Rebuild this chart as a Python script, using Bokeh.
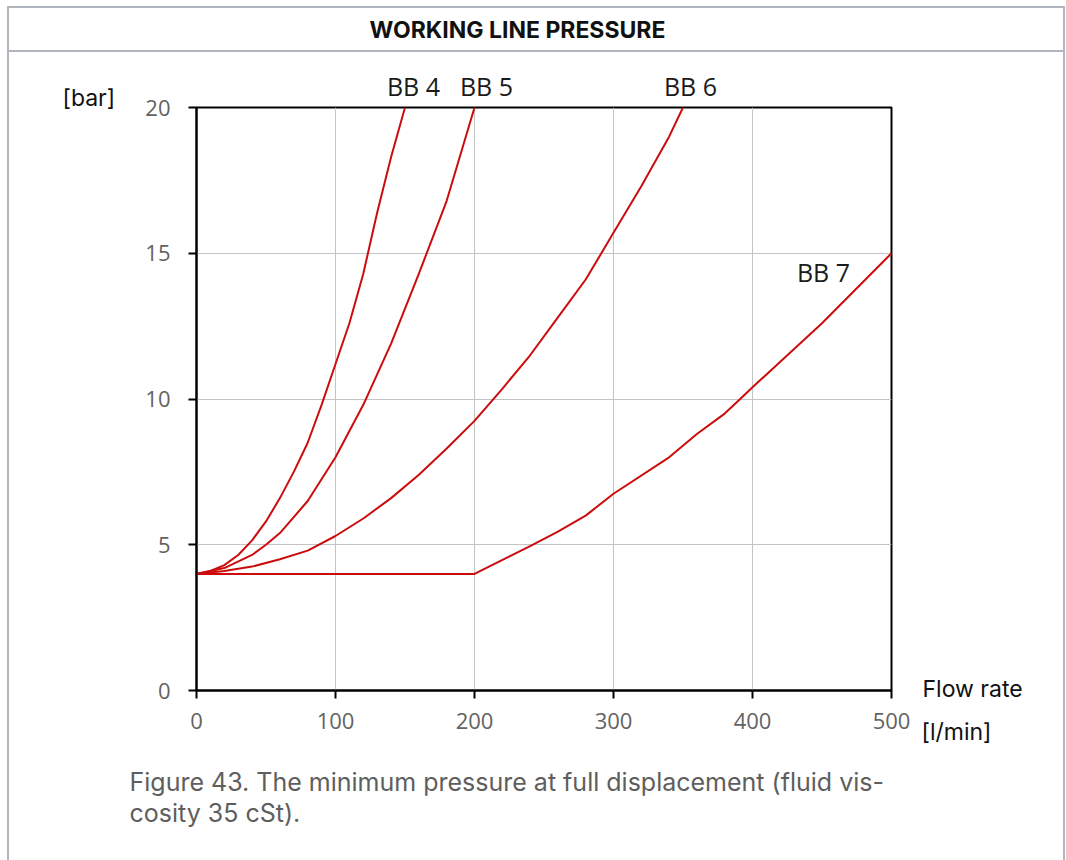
from bokeh.plotting import figure
from bokeh.models import Range1d, FixedTicker, Label, InlineStyleSheet
from bokeh.embed import file_html
from bokeh.resources import INLINE

# Minimum working line pressure [bar] against flow rate [l/min]
bb4_flow = [0, 10, 20, 30, 40, 50, 60, 70, 80, 90, 100, 110, 120, 130, 140, 150]
bb4_bar = [4.0, 4.1, 4.3, 4.65, 5.15, 5.8, 6.6, 7.5, 8.5, 9.8, 11.2, 12.6, 14.3, 16.4, 18.3, 20.0]

bb5_flow = [0, 20, 40, 50, 60, 80, 100, 110, 120, 140, 160, 180, 200]
bb5_bar = [4.0, 4.2, 4.65, 5.0, 5.4, 6.5, 8.0, 8.9, 9.8, 11.9, 14.3, 16.8, 20.0]

bb6_flow = [0, 20, 40, 60, 80, 100, 120, 140, 160, 180, 200, 220, 240, 260, 280, 300, 320, 340, 350]
bb6_bar = [4.0, 4.1, 4.25, 4.5, 4.8, 5.3, 5.9, 6.6, 7.4, 8.3, 9.25, 10.35, 11.5, 12.8, 14.1, 15.7, 17.3, 19.0, 20.0]

bb7_flow = [0, 200, 240, 260, 280, 300, 340, 360, 380, 390, 400, 450, 500]
bb7_bar = [4.0, 4.0, 4.95, 5.45, 6.0, 6.75, 8.0, 8.8, 9.5, 9.95, 10.4, 12.6, 15.0]

series = [("BB 4", bb4_flow, bb4_bar), ("BB 5", bb5_flow, bb5_bar),
          ("BB 6", bb6_flow, bb6_bar), ("BB 7", bb7_flow, bb7_bar)]

x_ticks = [0, 100, 200, 300, 400, 500]
y_ticks = [0, 5, 10, 15, 20]

W, H = 1066, 860
LEFT, RIGHT, TOP, BOTTOM = 196, 175, 107, 170
X_MAX, Y_MAX = 500, 20

# panel frame with a header row, drawn around the whole chart
panel_css = InlineStyleSheet(css="""
:host { position: relative; }
:host::before {
  content: ""; position: absolute; z-index: 10; pointer-events: none;
  left: 7px; top: 6px; width: 1058px; height: 854px; box-sizing: border-box;
  border: 2px solid #b1b5bd; border-bottom: none;
}
:host::after {
  content: ""; position: absolute; z-index: 10; pointer-events: none;
  left: 7px; top: 50px; width: 1058px; height: 2px; background: #b1b5bd;
}
""")

p = figure(width=W, height=H, output_backend="svg", toolbar_location=None,
           x_range=Range1d(0, X_MAX), y_range=Range1d(0, Y_MAX),
           min_border_left=LEFT, min_border_right=RIGHT,
           min_border_top=TOP, min_border_bottom=BOTTOM,
           stylesheets=[panel_css])
p.background_fill_color = "white"
p.border_fill_color = "white"
p.outline_line_color = "black"
p.outline_line_width = 2

for ax in (p.xaxis[0], p.yaxis[0]):
    ax.axis_line_color = "black"
    ax.axis_line_width = 2
    ax.major_tick_line_color = "black"
    ax.major_tick_line_width = 2
    ax.major_tick_out = 8
    ax.major_tick_in = 0
    ax.minor_tick_line_color = None
    ax.major_label_text_font = "Open Sans"
    ax.major_label_text_font_size = "22px"
    ax.major_label_text_color = "#636363"
p.xaxis.ticker = FixedTicker(ticks=x_ticks)
p.yaxis.ticker = FixedTicker(ticks=y_ticks)
p.xaxis.major_label_standoff = 14
p.yaxis.major_label_standoff = 18

p.xgrid.ticker = FixedTicker(ticks=x_ticks)
p.ygrid.ticker = FixedTicker(ticks=y_ticks)
for g in (p.xgrid[0], p.ygrid[0]):
    g.grid_line_color = "#c4c4c4"
    g.grid_line_width = 1

for name, fx, fy in series:
    p.line(fx, fy, line_color="#cc0c0c", line_width=2, line_join="round")

def canvas_label(text, x, y, side, **kw):
    lab = Label(x=x, y=y, x_units="canvas", y_units="canvas", text=text, **kw)
    if side == "center":
        p.add_layout(lab)
    else:
        p.add_layout(lab, side)

name_style = dict(text_font="Open Sans", text_font_size="25px", text_color="#1a1a1a",
                  text_align="center", text_baseline="middle")
unit_style = dict(text_font="Inter", text_font_size="23px", text_color="#111111",
                  text_align="left", text_baseline="middle")
note_style = dict(text_font="Inter", text_font_size="25px", text_color="#5e5e5e",
                  text_align="left", text_baseline="middle")

canvas_label("WORKING LINE PRESSURE", 517, 29, "above", text_font="Inter",
             text_font_style="bold", text_font_size="23px", text_color="#111111",
             text_align="center", text_baseline="middle")

# curve names
canvas_label("BB 4", 413, 85, "above", **name_style)
canvas_label("BB 5", 486, 85, "above", **name_style)
canvas_label("BB 6", 690, 85, "right", **name_style)
canvas_label("BB 7", 823, 271, "center", **name_style)

# axis unit labels
canvas_label("[bar]", 62, 97, "left", **unit_style)
canvas_label("Flow rate", 922, 688, "right", **unit_style)
canvas_label("[l/min]", 921, 731, "below", **unit_style)

# figure caption
canvas_label("Figure 43. The minimum pressure at full displacement (fluid vis-", 129, 781, "below", **note_style)
canvas_label("cosity 35 cSt).", 129, 812, "below", **note_style)

open("out.html", "w").write(file_html(p, INLINE))
